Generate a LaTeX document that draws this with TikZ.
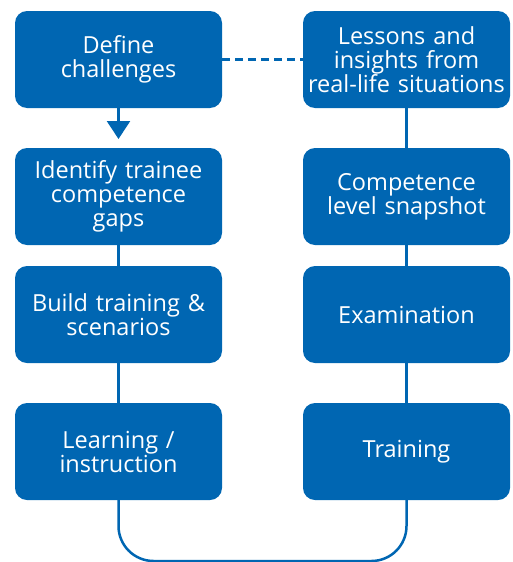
\documentclass[tikz,border=0pt]{standalone}
\usepackage{fontspec}
\setmainfont{Open Sans}
\usetikzlibrary{arrows.meta}
\definecolor{stepblue}{RGB}{0,102,178}
\begin{document}
\begin{tikzpicture}[x=1pt,y=-1pt,
    stepbox/.style={rectangle, fill=stepblue, rounded corners=12pt, outer sep=0pt,
        minimum width=207pt, minimum height=97pt, inner sep=2pt,
        text width=203pt, align=center, text=white,
        font=\fontsize{23.5}{24}\selectfont},
    link/.style={draw=stepblue, line width=2.5pt}]
    \useasboundingbox (0,0) rectangle (512,562);
    %Left column
    \node[stepbox] (l1) at (118.5,59.5)  {Define\\challenges};
    \node[stepbox] (l2) at (118.5,196.5) {Identify trainee\\competence\\gaps};
    \node[stepbox] (l3) at (118.5,314.5) {Build training \&\\scenarios};
    \node[stepbox] (l4) at (118.5,451.5) {Learning /\\instruction};
    %Right column
    \node[stepbox] (r1) at (406.5,59.5)  {Lessons and\\insights from\\real-life situations};
    \node[stepbox] (r2) at (406.5,196.5) {Competence\\level snapshot};
    \node[stepbox] (r3) at (406.5,314.5) {Examination};
    \node[stepbox] (r4) at (406.5,451.5) {Training};
    \coordinate (loop) at (262,561);
    \draw[link, -{Triangle[width=23pt,length=18pt]}, shorten >=9pt] (l1) -- (l2);
    \draw[link] (l2) -- (l3);
    \draw[link] (l3) -- (l4);
    \draw[link] (r1) -- (r2);
    \draw[link] (r2) -- (r3);
    \draw[link] (r3) -- (r4);
    \draw[link, dash pattern=on 8pt off 5pt] (l1) -- (r1);
    \draw[link, rounded corners=35pt] (l4.south) |- (loop) -| (r4.south);
\end{tikzpicture}
\end{document}
